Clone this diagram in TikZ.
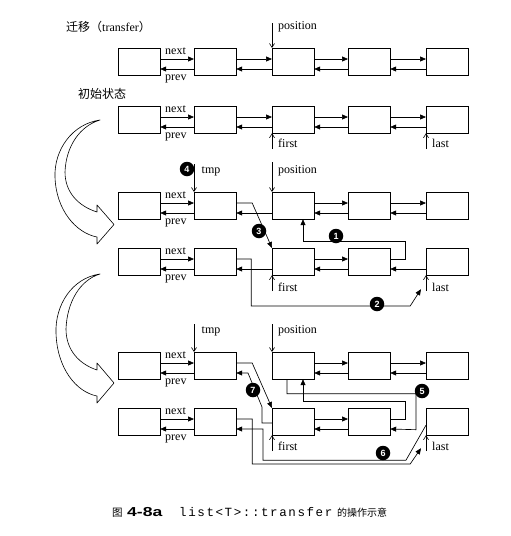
\documentclass[tikz,border=0pt]{standalone}
\usepackage{fontspec}
\usepackage{graphicx}
\setmainfont{Liberation Serif}
\newfontfamily\cjk{Noto Sans CJK SC}
\newfontfamily\capsans{Liberation Sans}
\newfontfamily\capmono{Liberation Mono}
\usetikzlibrary{arrows.meta,calc}
\newcommand\lnknext[2]{\draw[lnk] ([yshift=-11pt]#1.north east) -- ([yshift=-11pt]#2.north west);}
\newcommand\lnkprev[2]{\draw[lnk] ([yshift=-21pt]#2.north west) -- ([yshift=-21pt]#1.north east);}
\newcommand\capk{\kern1.6pt}
\begin{document}
\begin{tikzpicture}[x=1pt,y=-1pt,
  box/.style={draw, line width=0.7pt, minimum width=41.5pt, minimum height=26.5pt, inner sep=0pt, anchor=north west},
  lnk/.style={line width=0.65pt, -{Triangle[length=6pt,width=5pt]}},
  ptr/.style={line width=0.6pt, -{Straight Barb[length=4pt,width=5pt]}},
  lbl/.style={font=\fontsize{12}{12}\selectfont, inner sep=0pt, anchor=base west},
  cjklbl/.style={font=\cjk\fontsize{12}{12}\selectfont, inner sep=0pt, anchor=base west},
  num/.style={circle, fill=black, text=white, inner sep=0pt, minimum size=14.5pt, font=\capsans\bfseries\fontsize{9}{9}\selectfont},
  bigarrow/.style={draw, line width=0.6pt, fill=white, line join=round}]
\useasboundingbox (0,0) rectangle (511,536);

% boxes
\foreach \r/\t in {1/48,2/106,3/192,4/248,5/352,6/408}{
  \foreach \c/\x in {a/118,b/194,c/272,d/348,e/426}{
    \node[box] (\c\r) at (\x,\t) {};
  }
  \node[lbl] (nx\r) at (165,\t+6.5) {next};
  \node[lbl] (pv\r) at (165,\t+32) {prev};
}

% titles
\node[cjklbl] (title) at (66,31.5) {迁移（{\rmfamily transfer}）};
\node[cjklbl] (init) at (78,98) {初始状态};

% rows 1 and 2: full links
\foreach \r in {1,2}{
  \lnknext{a\r}{b\r} \lnkprev{a\r}{b\r}
  \lnknext{b\r}{c\r} \lnkprev{b\r}{c\r}
  \lnknext{c\r}{d\r} \lnkprev{c\r}{d\r}
  \lnknext{d\r}{e\r} \lnkprev{d\r}{e\r}
}
\draw[ptr] ([yshift=25pt]c1.north west) -- (c1.north west);
\node[lbl] (pos1) at (278,29) {position};
\draw[ptr] ([yshift=-16pt]c2.south west) -- (c2.south west);
\node[lbl] (first2) at (278,147) {first};
\draw[ptr] ([yshift=-16pt]e2.south west) -- (e2.south west);
\node[lbl] (last2) at (432,147) {last};

% big curved arrows
\path[bigarrow] (100,120) .. controls (72,124) and (54,150) .. (55,177)
  .. controls (56,210) and (76,233) .. (97,237) -- (97,244) -- (114,224.5) -- (97,205) -- (97,212)
  .. controls (78,206) and (65,192) .. (65,172) .. controls (66,146) and (80,126) .. (100,120) -- cycle;
\path[bigarrow] (100,274) .. controls (72,278) and (55,305) .. (56,333)
  .. controls (57,368) and (76,392) .. (97,396) -- (97,403) -- (114,383) -- (97,363) -- (97,370)
  .. controls (79,364) and (66,350) .. (66,329) .. controls (67,302) and (80,280) .. (100,274) -- cycle;

% rows 3 and 4
\lnknext{a3}{b3} \lnkprev{a3}{b3} \lnkprev{b3}{c3}
\lnknext{c3}{d3} \lnkprev{c3}{d3} \lnknext{d3}{e3} \lnkprev{d3}{e3}
\lnknext{a4}{b4} \lnkprev{a4}{b4} \lnkprev{b4}{c4}
\lnknext{c4}{d4} \lnkprev{c4}{d4} \lnkprev{d4}{e4}

\draw[ptr] ([yshift=28pt]b3.north west) -- (b3.north west);
\node[lbl] (tmp3) at (201.5,173) {tmp};
\node[num] (n4) at (187,169) {4};
\draw[ptr] ([yshift=30pt]c3.north west) -- (c3.north west);
\node[lbl] (pos3) at (278,173) {position};
\draw[ptr] ([yshift=-16pt]c4.south west) -- (c4.south west);
\node[lbl] (first4) at (278,291) {first};
\draw[ptr] ([yshift=-16pt]e4.south west) -- (e4.south west);
\node[lbl] (last4) at (432,291) {last};

\draw[lnk] ([yshift=-11pt]b3.north east) -- ++(16,0) -- (c4.north west);
\draw[lnk] ([yshift=-11pt]d4.north east) -- ++(15,0) -- ++(0,-18) -| ([xshift=31pt]c3.south west);
\draw[lnk] ([yshift=-11pt]b4.north east) -- ++(15,0) -- ++(0,47) -- ++(159,0) -- ([xshift=-5pt,yshift=-14pt]e4.south west);
\node[num] (n1) at (336,236) {1};
\node[num] (n2) at (377,304) {2};
\node[num] (n3) at (259,231) {3};

% rows 5 and 6
\lnknext{a5}{b5} \lnkprev{a5}{b5}
\lnknext{c5}{d5} \lnkprev{c5}{d5} \lnknext{d5}{e5} \lnkprev{d5}{e5}
\lnknext{a6}{b6} \lnkprev{a6}{b6}
\lnknext{c6}{d6} \lnkprev{c6}{d6}

\draw[ptr] ([yshift=28pt]b5.north west) -- (b5.north west);
\node[lbl] (tmp5) at (201.5,333) {tmp};
\draw[ptr] ([yshift=28pt]c5.north west) -- (c5.north west);
\node[lbl] (pos5) at (278,333) {position};
\draw[ptr] ([yshift=-16pt]c6.south west) -- (c6.south west);
\node[lbl] (first6) at (278,450) {first};
\draw[ptr] ([yshift=-16pt]e6.south west) -- (e6.south west);
\node[lbl] (last6) at (432,450) {last};

\draw[lnk] ([yshift=-11pt]b5.north east) -- ++(16,0) -- (c6.north west);
\draw[lnk] ([yshift=-15pt]c6.north west) -- ++(-10,0) -- ++(0,-16) -- ++(-14,-34) -- ([yshift=-21pt]b5.north east);
\draw[lnk] ([yshift=-11pt]d6.north east) -- ++(15,0) -- ++(0,-18) -| ([xshift=31pt]c5.south west);
\draw[lnk] ([xshift=15pt]c5.south west) -- ++(0,14.5) -- ++(129,0) -- ++(0,36) -- ([yshift=-21pt]d6.north east);
\draw[lnk] ([yshift=-11pt]b6.north east) -- ++(16,0) -- ++(0,45) -- ++(158,0) -- ([xshift=-5pt,yshift=-13pt]e6.south west);
\draw[lnk] ([yshift=10pt]e6.south west) -- ++(-20,35) -- ++(-143,0) |- ([yshift=-21pt]b6.north east);
\node[num] (n5) at (422,391) {5};
\node[num] (n6) at (383,453) {6};
\node[num] (n7) at (253,390) {7};

% caption
\node[inner sep=0pt, anchor=base west, font=\cjk\fontsize{10.5}{10.5}\selectfont] (cap1) at (112,516.5) {图};
\node[inner sep=0pt, anchor=base west, font=\capsans\bfseries\fontsize{13}{13}\selectfont] (cap2) at (127,516) {\scalebox{1.35}[1]{4-8a}};
\node[inner sep=0pt, anchor=base west, font=\capmono\fontsize{12.5}{12.5}\selectfont] (cap3) at (179,516) {l\capk i\capk s\capk t\capk <\capk T\capk >\capk :\capk :\capk t\capk r\capk a\capk n\capk s\capk f\capk e\capk r};
\node[inner sep=0pt, anchor=base west, font=\cjk\fontsize{10}{10}\selectfont] (cap4) at (337,516.5) {的操作示意};
\end{tikzpicture}
\end{document}
